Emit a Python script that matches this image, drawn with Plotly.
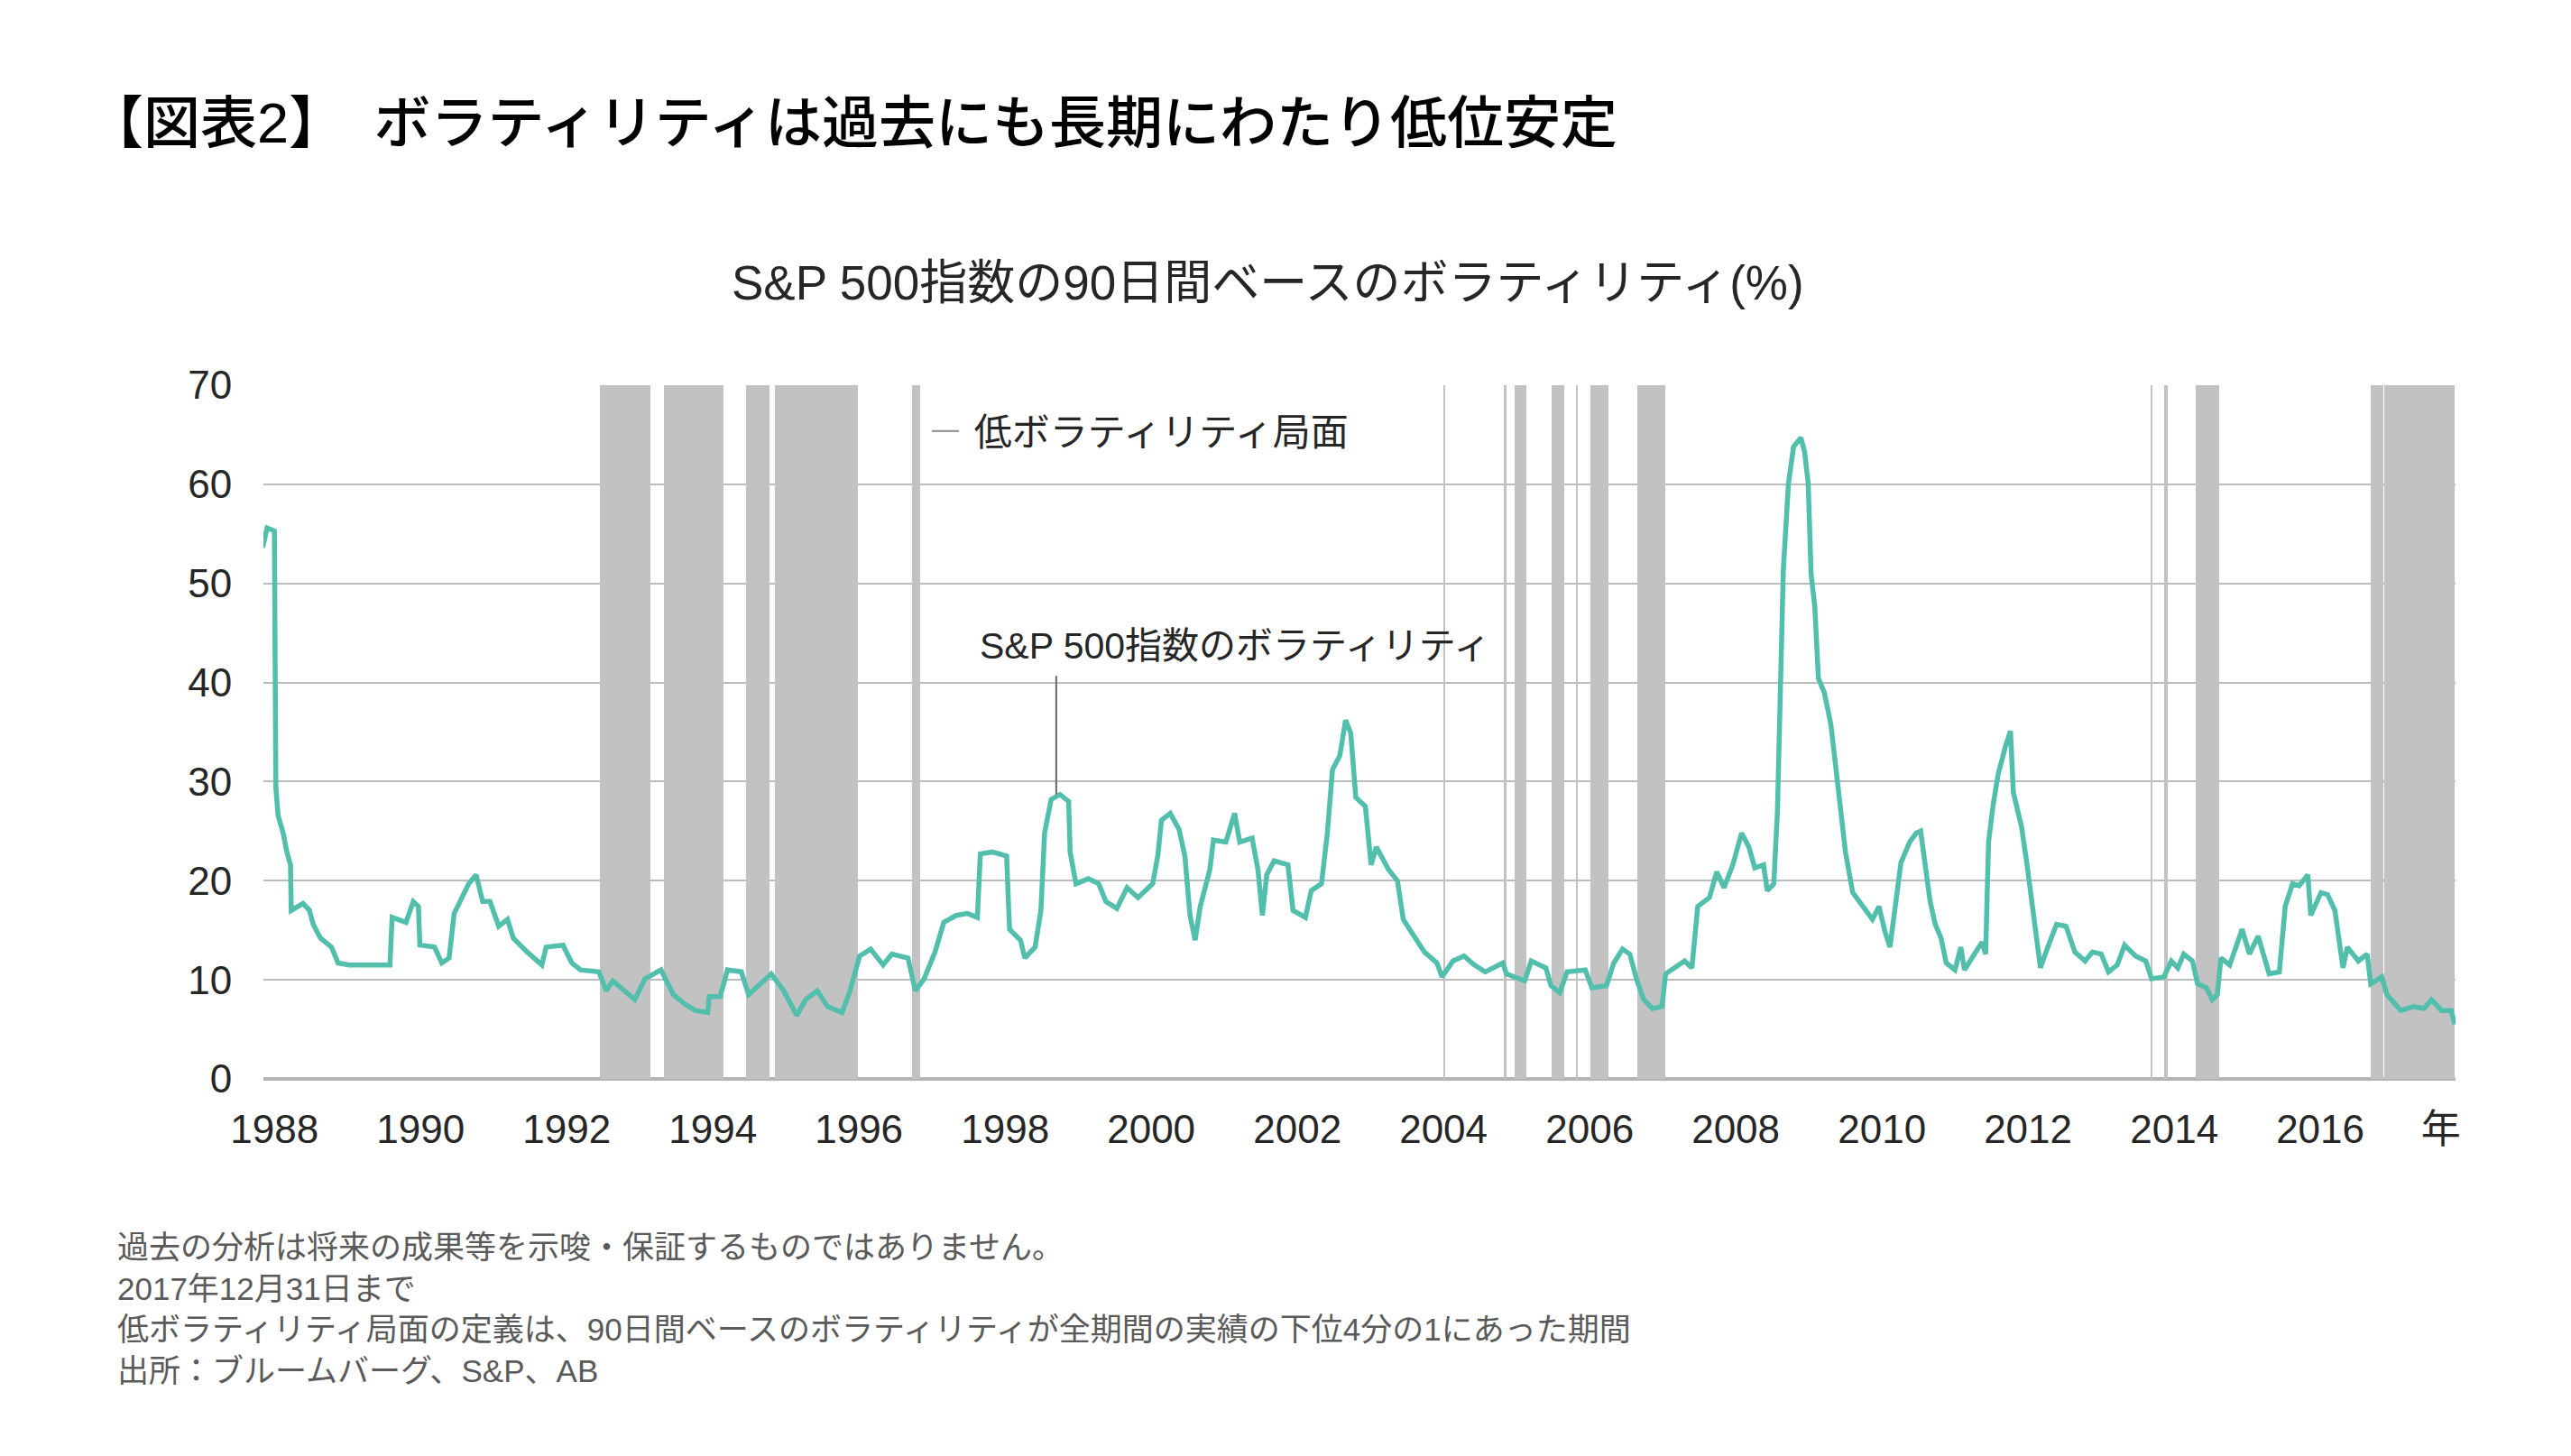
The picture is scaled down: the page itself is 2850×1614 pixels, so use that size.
import pandas as pd
import plotly.graph_objects as go

# ---------------- data ----------------
vol_years = [
    1987.99, 1988.05, 1988.15, 1988.16, 1988.17, 1988.20, 1988.27, 1988.32, 1988.37, 1988.38,
    1988.54, 1988.63, 1988.68, 1988.78, 1988.93, 1989.02, 1989.17, 1989.37, 1989.56, 1989.73,
    1989.76, 1989.95, 1990.05, 1990.12, 1990.14, 1990.34, 1990.44, 1990.54, 1990.61, 1990.81,
    1990.91, 1991.00, 1991.10, 1991.22, 1991.34, 1991.42, 1991.61, 1991.81, 1991.87, 1992.10,
    1992.22, 1992.34, 1992.59, 1992.69, 1992.78, 1992.93, 1993.08, 1993.22, 1993.44, 1993.61,
    1993.76, 1993.91, 1994.08, 1994.10, 1994.25, 1994.35, 1994.54, 1994.64, 1994.78, 1994.95,
    1995.12, 1995.30, 1995.42, 1995.58, 1995.72, 1995.92, 1996.02, 1996.16, 1996.31, 1996.48,
    1996.60, 1996.82, 1996.92, 1997.04, 1997.19, 1997.31, 1997.48, 1997.63, 1997.77, 1997.81,
    1997.97, 1998.17, 1998.21, 1998.36, 1998.42, 1998.56, 1998.64, 1998.69, 1998.78, 1998.90,
    1999.02, 1999.04, 1999.12, 1999.29, 1999.43, 1999.53, 1999.68, 1999.82, 1999.97, 2000.17,
    2000.24, 2000.29, 2000.41, 2000.53, 2000.61, 2000.68, 2000.75, 2000.82, 2000.95, 2001.00,
    2001.17, 2001.29, 2001.36, 2001.53, 2001.61, 2001.67, 2001.73, 2001.83, 2002.02, 2002.09,
    2002.26, 2002.34, 2002.48, 2002.56, 2002.63, 2002.73, 2002.81, 2002.88, 2002.95, 2003.08,
    2003.16, 2003.23, 2003.40, 2003.52, 2003.60, 2003.74, 2003.89, 2004.06, 2004.13, 2004.28,
    2004.43, 2004.57, 2004.72, 2004.96, 2005.01, 2005.26, 2005.35, 2005.55, 2005.62, 2005.74,
    2005.84, 2006.09, 2006.18, 2006.38, 2006.48, 2006.60, 2006.70, 2006.79, 2006.89, 2007.01,
    2007.14, 2007.19, 2007.31, 2007.45, 2007.55, 2007.63, 2007.79, 2007.89, 2007.99, 2008.11,
    2008.23, 2008.33, 2008.41, 2008.53, 2008.58, 2008.67, 2008.72, 2008.75, 2008.80, 2008.87,
    2008.94, 2009.04, 2009.09, 2009.14, 2009.18, 2009.23, 2009.28, 2009.36, 2009.45, 2009.55,
    2009.65, 2009.75, 2009.89, 2010.02, 2010.11, 2010.19, 2010.26, 2010.33, 2010.41, 2010.53,
    2010.62, 2010.68, 2010.76, 2010.81, 2010.88, 2010.96, 2011.03, 2011.15, 2011.23, 2011.28,
    2011.40, 2011.52, 2011.57, 2011.61, 2011.67, 2011.74, 2011.84, 2011.91, 2011.95, 2012.06,
    2012.13, 2012.23, 2012.32, 2012.42, 2012.54, 2012.67, 2012.79, 2012.93, 2013.03, 2013.15,
    2013.25, 2013.37, 2013.47, 2013.62, 2013.76, 2013.84, 2014.01, 2014.11, 2014.20, 2014.28,
    2014.40, 2014.47, 2014.59, 2014.67, 2014.74, 2014.79, 2014.91, 2015.08, 2015.18, 2015.30,
    2015.45, 2015.59, 2015.67, 2015.77, 2015.86, 2015.98, 2016.02, 2016.16, 2016.25, 2016.35,
    2016.46, 2016.52, 2016.67, 2016.79, 2016.84, 2016.99, 2017.06, 2017.25, 2017.42, 2017.57,
    2017.67, 2017.81, 2017.94, 2017.99,
]

vol_values = [
    53.6, 55.6, 55.3, 38.5, 29.4, 26.6, 24.8, 22.9, 21.6, 17.0,
    17.7, 17.0, 15.6, 14.2, 13.3, 11.7, 11.5, 11.5, 11.5, 11.5,
    16.3, 15.8, 17.9, 17.4, 13.5, 13.3, 11.7, 12.2, 16.7, 19.7,
    20.6, 17.9, 17.9, 15.4, 16.1, 14.2, 12.8, 11.5, 13.3, 13.5,
    11.7, 11.0, 10.8, 8.9, 9.9, 8.9, 8.0, 10.1, 11.0, 8.5,
    7.6, 6.9, 6.7, 8.3, 8.3, 11.0, 10.8, 8.5, 9.4, 10.6,
    8.9, 6.4, 8.0, 8.9, 7.3, 6.7, 8.7, 12.4, 13.1, 11.5,
    12.6, 12.2, 8.9, 10.1, 12.8, 15.8, 16.5, 16.7, 16.3, 22.7,
    22.9, 22.5, 15.1, 14.0, 12.2, 13.3, 17.0, 24.8, 28.2, 28.7,
    28.0, 22.9, 19.7, 20.2, 19.7, 17.9, 17.2, 19.3, 18.3, 19.7,
    22.5, 26.1, 26.8, 25.2, 22.5, 16.5, 14.0, 17.4, 21.1, 24.1,
    23.9, 26.8, 23.9, 24.3, 21.1, 16.5, 20.6, 22.0, 21.6, 17.0,
    16.3, 19.0, 19.7, 24.8, 31.2, 32.6, 36.2, 34.9, 28.4, 27.5,
    21.6, 23.4, 21.1, 20.0, 16.1, 14.4, 12.8, 11.7, 10.3, 11.9,
    12.4, 11.5, 10.8, 11.7, 10.6, 9.9, 11.9, 11.2, 9.4, 8.7,
    10.8, 11.0, 9.2, 9.4, 11.7, 13.1, 12.6, 10.1, 8.0, 7.1,
    7.3, 10.6, 11.2, 11.9, 11.2, 17.4, 18.3, 20.9, 19.3, 21.6,
    24.8, 23.4, 21.3, 21.6, 19.0, 19.7, 27.1, 34.9, 51.4, 60.1,
    63.8, 64.7, 63.3, 60.1, 50.9, 47.7, 40.4, 39.0, 35.8, 29.4,
    22.9, 18.8, 17.4, 16.1, 17.4, 14.9, 13.3, 17.4, 21.8, 23.9,
    24.8, 25.0, 20.2, 17.9, 15.6, 14.2, 11.7, 11.0, 13.3, 11.0,
    12.4, 13.8, 12.6, 23.9, 27.5, 30.7, 33.5, 35.1, 28.9, 25.5,
    22.0, 16.5, 11.2, 13.3, 15.6, 15.4, 12.8, 11.9, 12.8, 12.6,
    10.8, 11.5, 13.5, 12.4, 11.9, 10.1, 10.3, 11.9, 11.2, 12.6,
    11.9, 9.6, 9.2, 8.0, 8.5, 12.2, 11.5, 15.1, 12.6, 14.4,
    10.6, 10.8, 17.4, 19.7, 19.5, 20.6, 16.5, 18.8, 18.6, 17.0,
    11.2, 13.3, 11.9, 12.6, 9.6, 10.3, 8.5, 6.9, 7.3, 7.1,
    8.0, 6.9, 6.9, 5.5,
]
assert len(vol_years) == len(vol_values)

# low-volatility periods (start / end, decimal years)
band_start = [1992.61, 1993.48, 1994.60, 1995.00, 1996.88, 2004.160, 2004.98, 2005.12,
              2005.63, 2005.963, 2006.16, 2006.80, 2013.828, 2014.01, 2014.44, 2016.84, 2017.03]
band_end = [1993.29, 1994.30, 1994.93, 1996.13, 1996.99, 2004.172, 2005.01, 2005.28,
            2005.80, 2005.975, 2006.41, 2007.18, 2013.845, 2014.06, 2014.77, 2017.01, 2017.99]
band_top = 70

tick_years = list(range(1988, 2017, 2))
tick_labels = [str(y) for y in tick_years]
unit_label = "年"

callout_year = 1998.85
callout_value = 28.7

title_text = "【図表2】　ボラティリティは過去にも長期にわたり低位安定"
subtitle_text = "S&P 500指数の90日間ベースのボラティリティ(%)"
series_name = "S&P 500指数のボラティリティ"
band_name = "低ボラティリティ局面"
notes = [
    "過去の分析は将来の成果等を示唆・保証するものではありません。",
    "2017年12月31日まで",
    "低ボラティリティ局面の定義は、90日間ベースのボラティリティが全期間の実績の下位4分の1にあった期間",
    "出所：ブルームバーグ、S&P、AB",
]


def to_date(y):
    yi = int(y)
    start = pd.Timestamp(year=yi, month=1, day=1)
    end = pd.Timestamp(year=yi + 1, month=1, day=1)
    return start + (end - start) * (y - yi)


vol_dates = [to_date(y) for y in vol_years]
b_start = [to_date(y) for y in band_start]
b_end = [to_date(y) for y in band_end]
band_mid = [s + (e - s) / 2 for s, e in zip(b_start, b_end)]
band_width = [(e - s).total_seconds() * 1000 for s, e in zip(b_start, b_end)]

tick_vals = [to_date(y + 0.15) for y in tick_years] + [to_date(2017.80)]
tick_text = tick_labels + [unit_label]

FONT = "Liberation Sans, Arial, Noto Sans CJK JP, sans-serif"
TEAL = "#52BFAD"
BAND = "#C2C2C2"
GRID = "#BDBDBD"
TXT = "#262626"

# plot area in pixels
W, H = 2850, 1614
L, R, T, B = 292, 128, 427, 418
pw, ph = W - L - R, H - T - B


def px(xp):
    return (xp - L) / pw


def py(yp):
    return (H - B - yp) / ph


fig = go.Figure()

fig.add_trace(go.Bar(
    x=band_mid, y=[band_top] * len(band_mid), width=band_width,
    marker=dict(color=BAND, line=dict(width=0)),
    showlegend=False, hoverinfo="skip", name=band_name,
))

fig.add_trace(go.Scatter(
    x=[None], y=[None], mode="lines", name="\u00a0" + band_name,
    line=dict(color="#8C8C8C", width=2), showlegend=True,
))

fig.add_trace(go.Scatter(
    x=vol_dates, y=vol_values, mode="lines", name=series_name,
    line=dict(color=TEAL, width=5.5), showlegend=False,
))

annotations = [
    dict(text=title_text, x=px(94), y=py(136), xref="paper", yref="paper",
         xanchor="left", yanchor="middle", showarrow=False,
         font=dict(family=FONT, size=63, color="#000000", weight=500)),
    dict(text=subtitle_text, x=px(1405), y=py(313), xref="paper", yref="paper",
         xanchor="center", yanchor="middle", showarrow=False,
         font=dict(family=FONT, size=53, color=TXT)),
    dict(text=series_name, x=px(1084), y=py(716), xref="paper", yref="paper",
         xanchor="left", yanchor="middle", showarrow=False,
         font=dict(family=FONT, size=41, color=TXT)),
    dict(text="", x=to_date(callout_year), y=callout_value, xref="x", yref="y",
         showarrow=True, arrowhead=0, arrowwidth=2, arrowcolor="#666666",
         ax=0, ay=-133, standoff=0),
    dict(text="<br>".join(notes), x=px(128), y=py(1451), xref="paper", yref="paper",
         xanchor="left", yanchor="middle", align="left", showarrow=False,
         font=dict(family=FONT, size=35, color="#5A5A5A")),
]

fig.update_layout(
    width=W, height=H,
    margin=dict(l=L, r=R, t=T, b=B),
    paper_bgcolor="white", plot_bgcolor="white",
    font=dict(family=FONT, color=TXT, size=44),
    bargap=0,
    showlegend=True,
    legend=dict(x=px(1028), y=py(478), xanchor="left", yanchor="middle",
                bgcolor="rgba(0,0,0,0)", font=dict(family=FONT, size=42, color=TXT),
                itemwidth=30),
    annotations=annotations,
    xaxis=dict(
        type="date", range=[to_date(1988.0), to_date(2018.0)],
        tickmode="array", tickvals=tick_vals, ticktext=tick_text,
        showgrid=False, zeroline=False, showline=False,
        ticks="outside", ticklen=17, tickcolor="rgba(0,0,0,0)",
        tickfont=dict(family=FONT, size=44, color=TXT),
    ),
    yaxis=dict(
        range=[0, 70], dtick=10, tick0=0,
        showgrid=True, gridcolor=GRID, gridwidth=2,
        zeroline=True, zerolinecolor="#B4B4B4", zerolinewidth=4,
        showline=False,
        ticks="outside", ticklen=25, tickcolor="rgba(0,0,0,0)",
        tickfont=dict(family=FONT, size=44, color=TXT),
    ),
)

fig.write_html(
    "out.html",
    config={"displayModeBar": False},
    post_script="document.body.style.margin='0';document.body.style.overflow='hidden';",
)
